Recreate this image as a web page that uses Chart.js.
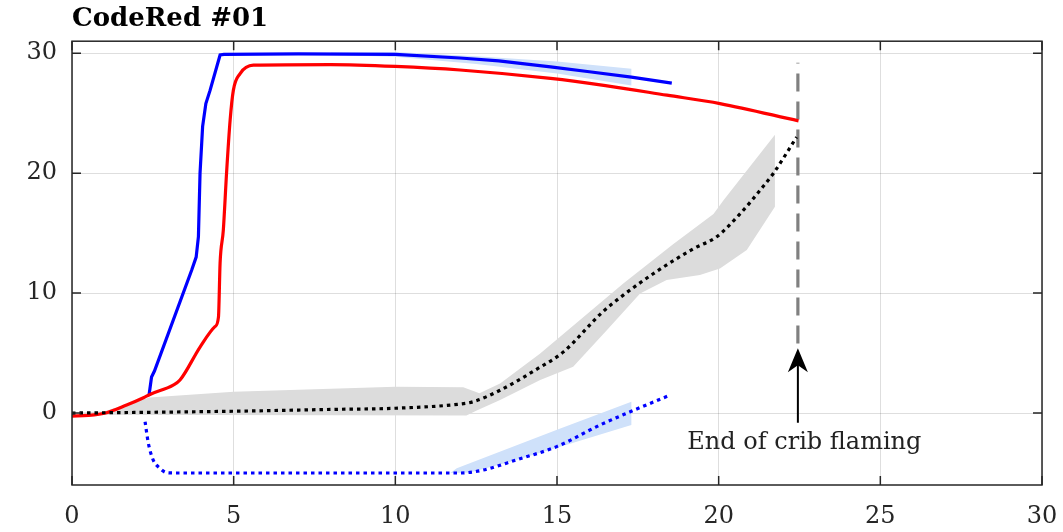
<!DOCTYPE html>
<html>
<head>
<meta charset="utf-8">
<script src="https://cdn.jsdelivr.net/npm/chart.js@4.4.0/dist/chart.umd.min.js"></script>
<style>
  html, body { margin: 0; padding: 0; background: #fff; }
  #wrap { width: 1063px; height: 532px; }
</style>
</head>
<body>
<div id="wrap"><canvas id="chart"></canvas></div>
<script>
// axis ticks
const xTicks = [0, 5, 10, 15, 20, 25, 30];
const yTicks = [0, 10, 20, 30];

// solid curves: [x, y]
const blueSolid = [
  [2.38, 1.44], [2.46, 3.0], [2.55, 3.5], [3.7, 11.9], [3.84, 13.0],
  [3.91, 14.7], [3.96, 20.0], [4.04, 23.9], [4.14, 25.8], [4.27, 26.9], [4.58, 29.85],
  [4.7, 29.9], [7, 29.95], [10, 29.9], [12, 29.6], [13.2, 29.36], [14.8, 28.86],
  [16, 28.45], [17.3, 28.0], [18.55, 27.5]
];
const redSolid = [
  [0, -0.25], [0.5, -0.2], [1.07, 0.03], [1.69, 0.67], [2.21, 1.28], [2.41, 1.55],
  [3.13, 2.33], [3.34, 2.75], [3.96, 5.5], [4.42, 7.2], [4.53, 8.0], [4.58, 12.5],
  [4.68, 15.25], [4.78, 20.0], [4.89, 24.4], [4.99, 26.9], [5.2, 28.3], [5.61, 29.0],
  [8, 29.05], [10, 28.9], [12, 28.6], [14.8, 27.9], [16.5, 27.3], [18.4, 26.5],
  [20.04, 25.8], [22.47, 24.36]
];

// dotted curves
const blackDotted = [
  [0, 0], [2, 0.05], [5, 0.15], [8, 0.3], [10, 0.4], [12, 0.75], [12.4, 0.94],
  [13.24, 1.9], [14.4, 3.7], [15.2, 5.1], [16.4, 8.4], [17.05, 9.83], [18.08, 11.8],
  [19.22, 13.7], [19.94, 14.7], [20.66, 16.6], [21.38, 18.9], [21.69, 19.97],
  [22.41, 23.0]
];
const blueDotted = [
  [2.26, -0.72], [2.36, -2.5], [2.51, -3.9], [2.72, -4.6], [2.93, -4.97], [3.3, -5.0],
  [12.0, -5.0], [12.72, -4.75], [13.75, -3.9], [14.99, -2.8], [16.33, -1.0],
  [17.26, 0.1], [18.5, 1.5]
];

// shaded ranges: upper edge, lower edge
const grayUpper = [
  [0, 0], [1, 0.15], [2.4, 1.3], [5, 1.78], [10, 2.19], [12.1, 2.15], [12.6, 1.64],
  [13.24, 2.47], [14.48, 4.97], [17.05, 10.8], [18.6, 14.1], [19.84, 16.6],
  [20.15, 17.75], [21.74, 23.2]
];
const grayLower = [
  [0, -0.15], [12.2, -0.2], [12.5, 0.2], [13.24, 1.08], [14.48, 2.75], [15.5, 3.86],
  [16.54, 6.9], [17.57, 9.97], [18.39, 11.1], [19.42, 11.5], [20.04, 12.05],
  [20.87, 13.6], [21.74, 17.2]
];
const blueTopUpper = [[8, 30.05], [10, 30.1], [12.5, 29.75], [15, 29.3], [17.3, 28.7]];
const blueTopLower = [[8, 29.85], [10, 29.7], [12.5, 29.1], [15, 28.3], [17.3, 27.3]];
const blueLowUpper = [[11.7, -5.0], [11.9, -4.6], [15.0, -1.4], [17.3, 0.95]];
const blueLowLower = [[11.7, -5.0], [12.3, -4.95], [13.5, -4.1], [15.0, -2.9], [17.3, -1.0]];

// end of crib flaming marker
const flameEndLine = [[22.45, 5.8], [22.45, 29.2]];
const arrowShaft = [[22.45, -0.8], [22.45, 5.0]];
const arrowTip = [22.45, 5.4];
const noteText = 'End of crib flaming';
const notePos = [22.65, -2.5];

const SERIF = '"DejaVu Serif", "Liberation Serif", serif';
const AXIS = '#262626';

const toPts = arr => arr.map(([x, y]) => ({ x, y }));
const band = (upper, lower) => toPts(upper.concat(lower.slice().reverse()));

function curve(data, color, opts) {
  return Object.assign({
    data: toPts(data),
    showLine: true,
    borderColor: color,
    borderWidth: 3.2,
    pointRadius: 0,
    fill: false,
    cubicInterpolationMode: 'monotone',
    order: 1
  }, opts || {});
}

function shade(upper, lower, color) {
  return {
    data: band(upper, lower),
    showLine: true,
    borderWidth: 0,
    borderColor: 'transparent',
    backgroundColor: color,
    pointRadius: 0,
    tension: 0,
    fill: 'shape',
    order: 10
  };
}

// box round the plot with inward tick marks on all four sides
const axesBox = {
  id: 'axesBox',
  afterDatasetsDraw(chart) {
    const { ctx, chartArea: a, scales: { x, y } } = chart;
    const len = 9;
    ctx.save();
    ctx.strokeStyle = AXIS;
    ctx.lineWidth = 1.5;
    ctx.strokeRect(a.left, a.top, a.right - a.left, a.bottom - a.top);
    ctx.beginPath();
    xTicks.forEach(v => {
      const px = x.getPixelForValue(v);
      ctx.moveTo(px, a.bottom); ctx.lineTo(px, a.bottom - len);
      ctx.moveTo(px, a.top); ctx.lineTo(px, a.top + len);
    });
    yTicks.forEach(v => {
      const py = y.getPixelForValue(v);
      ctx.moveTo(a.left, py); ctx.lineTo(a.left + len, py);
      ctx.moveTo(a.right, py); ctx.lineTo(a.right - len, py);
    });
    ctx.stroke();
    ctx.restore();
  }
};

// arrow head and note text
const flameNote = {
  id: 'flameNote',
  afterDatasetsDraw(chart) {
    const { ctx, scales: { x, y } } = chart;
    const tx = x.getPixelForValue(arrowTip[0]);
    const ty = y.getPixelForValue(arrowTip[1]);
    ctx.save();
    ctx.fillStyle = '#000';
    ctx.beginPath();
    ctx.moveTo(tx, ty);
    ctx.lineTo(tx - 10, ty + 24);
    ctx.lineTo(tx, ty + 17);
    ctx.lineTo(tx + 10, ty + 24);
    ctx.closePath();
    ctx.fill();
    ctx.font = '24px ' + SERIF;
    ctx.fillStyle = '#222';
    ctx.textAlign = 'center';
    ctx.textBaseline = 'middle';
    ctx.fillText(noteText, x.getPixelForValue(notePos[0]), y.getPixelForValue(notePos[1]));
    ctx.restore();
  }
};

new Chart(document.getElementById('chart'), {
  type: 'scatter',
  data: {
    datasets: [
      shade(grayUpper, grayLower, '#dcdcdc'),
      shade(blueTopUpper, blueTopLower, '#cfe1fa'),
      shade(blueLowUpper, blueLowLower, '#cfe1fa'),
      curve(flameEndLine, '#808080', { borderDash: [18, 10], cubicInterpolationMode: 'default', tension: 0, order: 5 }),
      curve(blackDotted, '#000000', { borderDash: [3.5, 4] }),
      curve(blueDotted, '#0000ff', { borderDash: [3.5, 4] }),
      curve(redSolid, '#ff0000'),
      curve(blueSolid, '#0000ff', { cubicInterpolationMode: 'default', tension: 0 }),
      curve(arrowShaft, '#000000', { borderWidth: 2, cubicInterpolationMode: 'default', tension: 0, order: 0 })
    ]
  },
  options: {
    responsive: true,
    maintainAspectRatio: false,
    animation: false,
    layout: { padding: { left: 0, right: 21, top: 0, bottom: 0 } },
    plugins: {
      legend: { display: false },
      tooltip: { enabled: false },
      title: {
        display: true,
        text: 'CodeRed #01',
        align: 'start',
        fullSize: false,
        color: '#000',
        font: { family: SERIF, size: 26, weight: 'bold' },
        padding: { top: 4, bottom: 6 }
      }
    },
    scales: {
      x: {
        type: 'linear',
        min: 0,
        max: 30,
        afterBuildTicks: s => { s.ticks = xTicks.map(v => ({ value: v })); },
        afterFit: s => { s.height = 47; s.paddingLeft = 0; s.paddingRight = 0; },
        grid: { color: 'rgba(0,0,0,0.13)', drawTicks: false },
        border: { display: false },
        ticks: { color: AXIS, font: { family: SERIF, size: 24 }, padding: 17, maxRotation: 0 }
      },
      y: {
        type: 'linear',
        min: -6,
        max: 31,
        afterBuildTicks: s => { s.ticks = yTicks.map(v => ({ value: v })); },
        afterFit: s => { s.width = 72; s.paddingTop = 0; s.paddingBottom = 0; },
        grid: { color: 'rgba(0,0,0,0.13)', drawTicks: false },
        border: { display: false },
        ticks: { color: AXIS, font: { family: SERIF, size: 24 }, padding: 15 }
      }
    }
  },
  plugins: [axesBox, flameNote]
});
</script>
</body>
</html>
